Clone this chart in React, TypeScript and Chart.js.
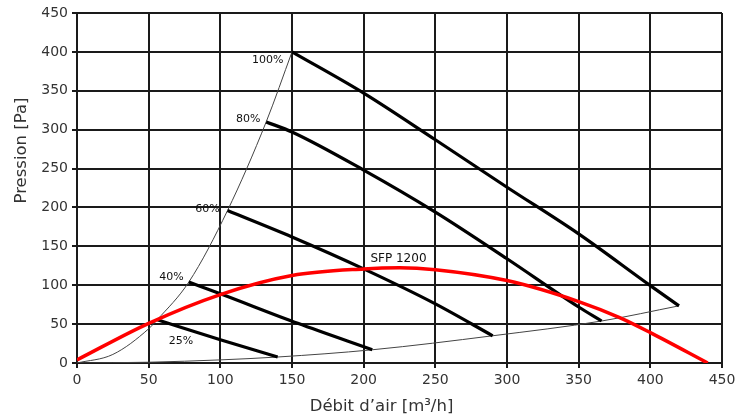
import React, { useEffect, useRef } from "react";
import { Chart, registerables } from "chart.js";

Chart.register(...registerables);

// Axis ticks
const xTicks = [0, 50, 100, 150, 200, 250, 300, 350, 400, 450];
const yTicks = [0, 50, 100, 150, 200, 250, 300, 350, 400, 450];

// SFP 1200 curve (red) [Q, P]
const sfp1200: [number, number][] = [
  [0, 4], [50, 51], [100, 88], [150, 112.5], [200, 121], [225, 122.5], [250, 120],
  [300, 106], [350, 79], [379, 58], [400, 39], [440, 0],
];

// Fan curves at different speeds [Q, P]
const fan100: [number, number][] = [[150, 400], [200, 347], [250, 287], [300, 226], [350, 166], [400, 99.5], [420, 73.5]];
const fan80: [number, number][] = [[132, 310], [150, 297], [200, 248], [250, 194], [300, 134], [350, 72], [366, 54]];
const fan60: [number, number][] = [[105, 196], [150, 162], [200, 121], [250, 76], [290, 35]];
const fan40: [number, number][] = [[78, 104], [100, 89], [154, 51], [206, 17]];
const fan25: [number, number][] = [[56, 55.6], [100, 30], [140, 7.7]];

// Thin system curves
const upperLimit: [number, number][] = [[0, 0], [25, 11], [50, 44], [56, 55.6], [78, 104], [105, 196], [132, 310], [150, 400]];
const lowerLimit: [number, number][] = [[0, 0], [50, 1], [100, 4], [140, 7.7], [206, 17], [290, 35], [366, 54], [420, 73.5]];

// Labels [text, Q, P, align]
const curveLabels: [string, number, number, CanvasTextAlign][] = [
  ["100%", 144, 389, "right"],
  ["80%", 128, 313.6, "right"],
  ["60%", 99.5, 198, "right"],
  ["40%", 74.4, 110, "right"],
  ["25%", 81, 27.7, "right"],
];
const sfpLabel: [string, number, number] = ["SFP 1200", 204.7, 134];

const xTitle = "Débit d’air [m³/h]";
const yTitle = "Pression [Pa]";

const toPts = (a: [number, number][]) => a.map(([x, y]) => ({ x, y }));

export default function App() {
  const ref = useRef<HTMLCanvasElement | null>(null);
  useEffect(() => {
    if (!ref.current) return;
    const FONT = "'DejaVu Sans', sans-serif";
    const labelsPlugin = {
      id: "labels",
      afterDatasetsDraw(chart: any) {
        const ctx = chart.ctx;
        const xs = chart.scales.x;
        const ys = chart.scales.y;
        ctx.save();
        ctx.fillStyle = "#111";
        ctx.font = "11px " + FONT;
        ctx.textBaseline = "middle";
        for (const [t, x, y, al] of curveLabels) {
          ctx.textAlign = al;
          ctx.fillText(t, xs.getPixelForValue(x), ys.getPixelForValue(y));
        }
        ctx.font = "12px " + FONT;
        ctx.textAlign = "left";
        ctx.fillText(sfpLabel[0], xs.getPixelForValue(sfpLabel[1]), ys.getPixelForValue(sfpLabel[2]));
        // axis titles
        ctx.fillStyle = "#333";
        ctx.font = "16.5px " + FONT;
        ctx.textAlign = "center";
        ctx.textBaseline = "middle";
        ctx.fillText(xTitle, 381.5, 406.5);
        ctx.translate(21.5, 150.5);
        ctx.rotate(-Math.PI / 2);
        ctx.fillText(yTitle, 0, 0);
        ctx.restore();
      },
    };
    const thin = { borderColor: "#444", borderWidth: 1, pointRadius: 0, cubicInterpolationMode: "monotone", order: 3 };
    const thick = { borderColor: "#000", borderWidth: 3.2, pointRadius: 0, cubicInterpolationMode: "monotone", order: 2 };
    const chart = new Chart(ref.current, {
      type: "line",
      data: {
        datasets: [
          { data: toPts(sfp1200), borderColor: "#ff0000", borderWidth: 3.5, pointRadius: 0, cubicInterpolationMode: "monotone", order: 0 } as any,
          { data: toPts(fan100), ...thick },
          { data: toPts(fan80), ...thick },
          { data: toPts(fan60), ...thick },
          { data: toPts(fan40), ...thick },
          { data: toPts(fan25), ...thick },
          { data: toPts(upperLimit), ...thin },
          { data: toPts(lowerLimit), ...thin },
        ],
      },
      options: {
        animation: false,
        responsive: false,
        devicePixelRatio: 1,
        layout: { padding: { top: 13, right: 22, left: 0, bottom: 0 } },
        plugins: { legend: { display: false }, tooltip: { enabled: false } },
        scales: {
          x: {
            type: "linear",
            min: 0,
            max: 450,
            afterBuildTicks: (s: any) => { s.ticks = xTicks.map((v) => ({ value: v })); },
            afterFit: (s: any) => { s.height = 54; },
            grid: { color: "#1a1a1a", lineWidth: 2, tickLength: 5 },
            border: { color: "#1a1a1a", width: 2 },
            ticks: { color: "#333", font: { family: FONT, size: 14 }, padding: 4, maxRotation: 0 },
          },
          y: {
            type: "linear",
            min: 0,
            max: 450,
            afterBuildTicks: (s: any) => { s.ticks = yTicks.map((v) => ({ value: v })); },
            afterFit: (s: any) => { s.width = 77; },
            grid: { color: "#1a1a1a", lineWidth: 2, tickLength: 5 },
            border: { color: "#1a1a1a", width: 2 },
            ticks: { color: "#333", font: { family: FONT, size: 14 }, padding: 4 },
          },
        },
      },
      plugins: [labelsPlugin],
    } as any);
    return () => chart.destroy();
  }, []);
  return (
    <div style={{ position: "absolute", left: 0, top: 0, width: 744, height: 417, background: "#fff" }}>
      <canvas ref={ref} width={744} height={417} style={{ display: "block", width: 744, height: 417 }} />
    </div>
  );
}
